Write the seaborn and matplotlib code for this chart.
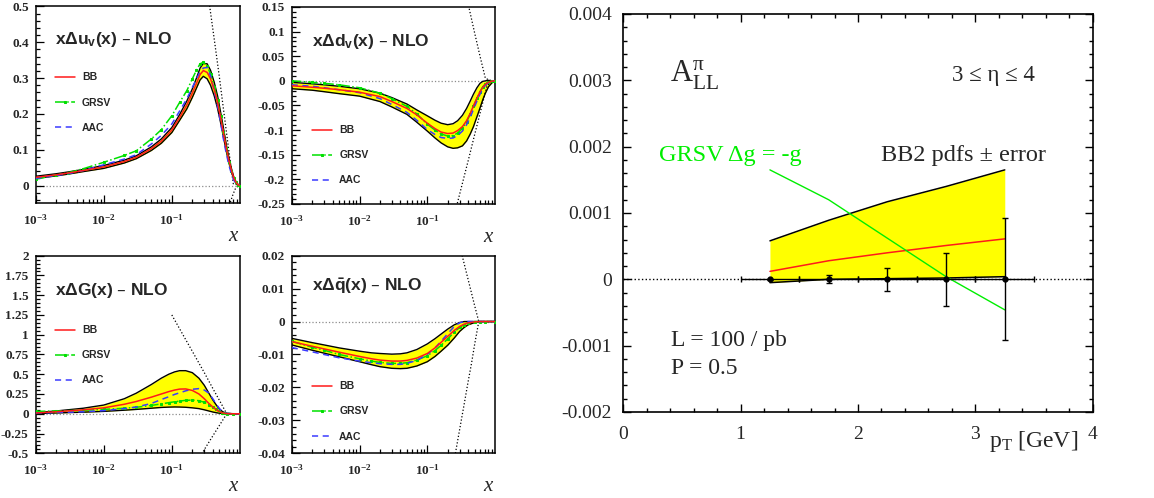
import math
import matplotlib
matplotlib.use("Agg")
import matplotlib.pyplot as plt
import seaborn as sns
from matplotlib.ticker import MultipleLocator, FuncFormatter, FixedLocator, LogLocator, NullFormatter

# ---------------- data: x*Delta u_v ----------------
x_uv = [0.001, 0.002, 0.003, 0.005, 0.01, 0.02, 0.03, 0.05, 0.07, 0.1, 0.13, 0.166, 0.2, 0.23,
        0.26, 0.29, 0.33, 0.37, 0.42, 0.47, 0.52, 0.57, 0.63, 0.69, 0.75, 0.81, 0.87, 0.93, 1.0]
uv_bb = [0.023, 0.030, 0.035, 0.042, 0.052, 0.067, 0.079, 0.103, 0.124, 0.155, 0.190, 0.225, 0.258,
         0.285, 0.310, 0.321, 0.316, 0.298, 0.268, 0.232, 0.190, 0.150, 0.105, 0.070, 0.043, 0.022,
         0.010, 0.003, 0.0]
uv_hi = [0.026, 0.033, 0.038, 0.045, 0.056, 0.071, 0.083, 0.108, 0.130, 0.162, 0.198, 0.236, 0.270,
         0.300, 0.328, 0.341, 0.340, 0.322, 0.288, 0.250, 0.205, 0.163, 0.115, 0.077, 0.048, 0.025,
         0.012, 0.004, 0.0]
uv_lo = [0.020, 0.027, 0.032, 0.039, 0.048, 0.063, 0.075, 0.098, 0.118, 0.148, 0.182, 0.214, 0.246,
         0.272, 0.295, 0.305, 0.298, 0.280, 0.250, 0.215, 0.176, 0.138, 0.096, 0.063, 0.038, 0.019,
         0.008, 0.002, 0.0]
uv_grsv = [0.018, 0.029, 0.036, 0.047, 0.065, 0.084, 0.097, 0.130, 0.156, 0.195, 0.232, 0.265, 0.298,
           0.322, 0.340, 0.344, 0.334, 0.312, 0.276, 0.238, 0.193, 0.150, 0.104, 0.067, 0.040, 0.020,
           0.009, 0.002, 0.0]
uv_aac = [0.020, 0.028, 0.033, 0.042, 0.058, 0.074, 0.086, 0.116, 0.140, 0.172, 0.208, 0.242, 0.274,
          0.297, 0.318, 0.328, 0.330, 0.306, 0.265, 0.222, 0.176, 0.132, 0.090, 0.057, 0.033, 0.016,
          0.006, 0.002, 0.0]
uv_bx_up = [0.34, 0.36, 0.43, 0.5, 0.57, 0.63, 0.72, 0.8, 1.0]
uv_b_up = [0.535, 0.50, 0.394, 0.302, 0.217, 0.153, 0.068, 0.005, 0.0]
uv_bx_lo = [0.70, 0.78, 0.85, 0.93, 1.0]
uv_b_lo = [-0.055, -0.028, -0.010, -0.002, 0.0]

# ---------------- data: x*Delta d_v ----------------
x_dv = [0.001, 0.002, 0.003, 0.005, 0.01, 0.02, 0.03, 0.05, 0.07, 0.1, 0.13, 0.16, 0.2, 0.24, 0.28,
        0.33, 0.38, 0.43, 0.48, 0.54, 0.6, 0.66, 0.72, 0.8, 0.9, 1.0]
dv_bb = [-0.010, -0.013, -0.015, -0.018, -0.023, -0.032, -0.042, -0.056, -0.069, -0.086, -0.097,
         -0.104, -0.107, -0.106, -0.101, -0.093, -0.081, -0.066, -0.051, -0.035, -0.022, -0.013,
         -0.007, -0.003, -0.0005, 0.0]
dv_hi = [-0.003, -0.006, -0.008, -0.011, -0.016, -0.025, -0.034, -0.047, -0.059, -0.071, -0.080,
         -0.086, -0.089, -0.087, -0.081, -0.070, -0.056, -0.041, -0.027, -0.014, -0.005, -0.001,
         0.0, 0.001, 0.0, 0.0]
dv_lo = [-0.016, -0.019, -0.022, -0.026, -0.031, -0.042, -0.053, -0.068, -0.084, -0.102, -0.116,
         -0.126, -0.134, -0.137, -0.136, -0.132, -0.122, -0.108, -0.093, -0.073, -0.055, -0.038,
         -0.025, -0.012, -0.004, 0.0]
dv_grsv = [0.0, -0.003, -0.005, -0.008, -0.014, -0.025, -0.036, -0.052, -0.067, -0.088, -0.100,
           -0.108, -0.112, -0.111, -0.106, -0.096, -0.083, -0.068, -0.052, -0.035, -0.022, -0.012,
           -0.006, -0.002, 0.0, 0.0]
dv_aac = [-0.008, -0.011, -0.014, -0.018, -0.024, -0.036, -0.048, -0.064, -0.080, -0.099, -0.109,
          -0.115, -0.117, -0.116, -0.111, -0.102, -0.089, -0.074, -0.058, -0.041, -0.027, -0.016,
          -0.009, -0.004, -0.001, 0.0]
dv_bx_up = [0.38, 0.41, 0.5, 0.6, 0.72, 0.85, 1.0]
dv_b_up = [0.175, 0.15, 0.097, 0.05, 0.005, 0.001, 0.0]
dv_bx_lo = [0.27, 0.35, 0.41, 0.5, 0.6, 0.76, 0.9, 1.0]
dv_b_lo = [-0.255, -0.194, -0.157, -0.109, -0.066, -0.010, -0.002, 0.0]

# ---------------- data: x*Delta G ----------------
x_g = [0.001, 0.002, 0.005, 0.01, 0.02, 0.03, 0.05, 0.07, 0.09, 0.11, 0.13, 0.16, 0.2, 0.25, 0.3,
       0.35, 0.4, 0.45, 0.5, 0.55, 0.6, 0.65, 0.8, 1.0]
g_bb = [0.01, 0.025, 0.05, 0.075, 0.12, 0.155, 0.21, 0.25, 0.28, 0.30, 0.312, 0.314, 0.295, 0.25,
        0.19, 0.13, 0.085, 0.05, 0.026, 0.012, 0.005, 0.002, 0.0, 0.0]
g_hi = [0.015, 0.035, 0.07, 0.11, 0.19, 0.26, 0.37, 0.45, 0.50, 0.53, 0.545, 0.545, 0.52, 0.45,
        0.36, 0.26, 0.175, 0.11, 0.06, 0.03, 0.012, 0.005, 0.0, 0.0]
g_lo = [0.002, 0.01, 0.02, 0.03, 0.045, 0.055, 0.07, 0.08, 0.084, 0.086, 0.085, 0.082, 0.075, 0.065,
        0.05, 0.035, 0.022, 0.013, 0.007, 0.003, 0.001, 0.0, 0.0, 0.0]
g_grsv = [0.03, 0.035, 0.045, 0.055, 0.07, 0.082, 0.105, 0.125, 0.14, 0.152, 0.16, 0.17, 0.173,
          0.165, 0.145, 0.115, 0.085, 0.055, 0.03, 0.015, 0.006, 0.002, 0.0, 0.0]
g_aac = [0.01, 0.015, 0.025, 0.04, 0.065, 0.085, 0.13, 0.18, 0.215, 0.245, 0.265, 0.29, 0.31, 0.318,
         0.30, 0.26, 0.19, 0.12, 0.065, 0.03, 0.012, 0.004, 0.0, 0.0]
g_bx_up = [0.1, 0.15, 0.2, 0.3, 0.4, 0.5, 0.64, 0.8, 1.0]
g_b_up = [1.25, 0.98, 0.79, 0.52, 0.32, 0.17, 0.0, 0.0, 0.0]
g_bx_lo = [0.26, 0.3, 0.4, 0.5, 0.64]
g_b_lo = [-0.55, -0.453, -0.28, -0.147, 0.0]

# ---------------- data: x*Delta qbar ----------------
x_q = [0.001, 0.002, 0.003, 0.005, 0.01, 0.015, 0.02, 0.03, 0.04, 0.05, 0.07, 0.1, 0.13, 0.16, 0.2,
       0.25, 0.3, 0.35, 0.4, 0.5, 0.6, 0.7, 1.0]
q_bb = [-0.0061, -0.0075, -0.0083, -0.0093, -0.0106, -0.0113, -0.0117, -0.0120, -0.0120, -0.0118,
        -0.0111, -0.0097, -0.0080, -0.0063, -0.0045, -0.0027, -0.0015, -0.0008, -0.0004, -0.0001,
        0.0, 0.0, 0.0]
q_hi = [-0.0051, -0.0064, -0.0071, -0.0080, -0.0090, -0.0095, -0.0097, -0.0099, -0.0098, -0.0095,
        -0.0085, -0.0068, -0.0052, -0.0038, -0.0023, -0.0010, -0.0003, 0.0, 0.0, 0.0, 0.0, 0.0, 0.0]
q_lo = [-0.0071, -0.0087, -0.0096, -0.0107, -0.0122, -0.0131, -0.0137, -0.0142, -0.0143, -0.0142,
        -0.0135, -0.0122, -0.0106, -0.0090, -0.0072, -0.0050, -0.0030, -0.0018, -0.0010, -0.0003,
        0.0, 0.0, 0.0]
q_grsv = [-0.0060, -0.0078, -0.0087, -0.0100, -0.0113, -0.0120, -0.0124, -0.0127, -0.0127, -0.0125,
          -0.0117, -0.0104, -0.0088, -0.0072, -0.0053, -0.0032, -0.0018, -0.0009, -0.0004, 0.0,
          0.0, 0.0, 0.0]
q_aac = [-0.0079, -0.0092, -0.0100, -0.0110, -0.0120, -0.0125, -0.0128, -0.0130, -0.0130, -0.0127,
         -0.0118, -0.0100, -0.0080, -0.0060, -0.0037, -0.0015, -0.0004, 0.0, 0.0, 0.0, 0.0, 0.0, 0.0]
q_bx_up = [0.3, 0.327, 0.4, 0.5, 0.575, 1.0]
q_b_up = [0.023, 0.02, 0.0128, 0.0048, 0.0, 0.0]
q_bx_lo = [0.26, 0.3, 0.35, 0.4, 0.45, 0.5, 0.575, 1.0]
q_b_lo = [-0.040, -0.0328, -0.0251, -0.0183, -0.0126, -0.0069, 0.0, 0.0]

# ---------------- data: A_LL^pi vs pT ----------------
pt = [1.25, 1.75, 2.25, 2.75, 3.25]
all_hi = [0.00058, 0.00089, 0.00117, 0.00140, 0.00165]
all_bb = [0.00012, 0.00028, 0.00040, 0.00051, 0.00061]
all_lo = [-0.00005, 0.0, 0.00001, 0.00002, 0.00004]
all_grsv = [0.00165, 0.00120, 0.00062, 0.00004, -0.00046]
all_pts = [0.0, 0.0, 0.0, 0.0, 0.0]
all_err = [0.00001, 0.00006, 0.00017, 0.00040, 0.00092]
pt_half = 0.25

YELLOW = "#ffff00"
RED = "#ff1a1a"
GREEN = "#00e000"
BLUE = "#3a3aff"

sns.set_theme(style="white")
plt.rcParams["font.family"] = ["Liberation Serif", "DejaVu Serif"]
plt.rcParams["mathtext.default"] = "regular"

fig = plt.figure(figsize=(11.54, 4.98), dpi=100)

SANSB = dict(family=["Liberation Sans", "DejaVu Sans"], weight="bold")


def line(ax, x, y, **kw):
    sns.lineplot(x=x, y=y, ax=ax, estimator=None, sort=False, legend=False, **kw)
    return ax.lines[-1]


def pdf_panel(rect, x, bb, hi, lo, grsv, aac, bxu, bu, bxl, bl, ylim, major, minor,
              title, tpos, lpos):
    ax = fig.add_axes(rect)
    ax.set_xscale("log")
    ax.axhline(0, color="0.55", ls=":", lw=0.9, zorder=0.5)
    ax.fill_between(x, lo, hi, color=YELLOW, lw=0, zorder=1)
    line(ax, x, hi, color="black", lw=1.0, zorder=2)
    line(ax, x, lo, color="black", lw=1.0, zorder=2)
    h_bb = line(ax, x, bb, color=RED, lw=1.1, zorder=4)
    h_gr = line(ax, x, grsv, color=GREEN, lw=1.1, ls="-.", marker="s", ms=1.8,
                mec=GREEN, zorder=3)
    h_aa = line(ax, x, aac, color=BLUE, lw=1.1, ls=(0, (4, 3)), zorder=3)
    line(ax, bxu, bu, color="black", lw=0.9, ls=":", zorder=2)
    line(ax, bxl, bl, color="black", lw=0.9, ls=":", zorder=2)
    ax.set_xlim(1e-3, 1)
    ax.set_ylim(*ylim)
    ax.xaxis.set_major_locator(FixedLocator([1e-3, 1e-2, 1e-1]))
    ax.xaxis.set_major_formatter(FuncFormatter(lambda v, p: r"$10^{%d}$" % round(math.log10(v))))
    ax.xaxis.set_minor_locator(LogLocator(base=10, subs=range(2, 10), numticks=20))
    ax.xaxis.set_minor_formatter(NullFormatter())
    ax.yaxis.set_major_locator(MultipleLocator(major))
    ax.yaxis.set_minor_locator(MultipleLocator(minor))
    ax.yaxis.set_major_formatter(FuncFormatter(lambda v, p: "0" if abs(v) < 1e-9 else ("%g" % round(v, 6))))
    ax.tick_params(which="both", direction="in", left=True, bottom=True, top=False, right=False,
                   color="black", labelsize=9.5, width=0.9)
    ax.tick_params(which="major", length=5.5)
    ax.tick_params(which="minor", length=3)
    ax.tick_params(axis="x", pad=7)
    ax.tick_params(axis="y", pad=5)
    for s in ax.spines.values():
        s.set_color("black")
        s.set_linewidth(1.1)
    plt.setp(ax.get_xticklabels(), fontweight="bold")
    plt.setp(ax.get_yticklabels(), fontweight="bold")
    ax.text(tpos[0], tpos[1], title, transform=ax.transAxes, fontsize=12.5, va="center",
            ha="left", **SANSB)
    ax.legend([h_bb, h_gr, h_aa], ["BB", "GRSV", "AAC"], loc="upper left",
              bbox_to_anchor=lpos, frameon=False, prop=dict(size=7.5, **SANSB),
              handlelength=1.9, handletextpad=0.7, labelspacing=1.45,
              borderpad=0, borderaxespad=0)
    ax.text(0.965, -0.17, "x", transform=ax.transAxes, fontsize=15, style="italic",
            ha="center", va="center")
    return ax


pdf_panel([0.0309, 0.5914, 0.1770, 0.3956], x_uv, uv_bb, uv_hi, uv_lo, uv_grsv, uv_aac,
          uv_bx_up, uv_b_up, uv_bx_lo, uv_b_lo, (-0.05, 0.5), 0.1, 0.02,
          r"x$\Delta$u$_{v}$(x) – NLO", (0.094, 0.83), (0.094, 0.665))
pdf_panel([0.2528, 0.5904, 0.1762, 0.3956], x_dv, dv_bb, dv_hi, dv_lo, dv_grsv, dv_aac,
          dv_bx_up, dv_b_up, dv_bx_lo, dv_b_lo, (-0.25, 0.15), 0.05, 0.01,
          r"x$\Delta$d$_{v}$(x) – NLO", (0.098, 0.827), (0.10, 0.40))
pdf_panel([0.0309, 0.0898, 0.1770, 0.3968], x_g, g_bb, g_hi, g_lo, g_grsv, g_aac,
          g_bx_up, g_b_up, g_bx_lo, g_b_lo, (-0.5, 2.0), 0.25, 0.05,
          r"x$\Delta$G(x) – NLO", (0.094, 0.826), (0.094, 0.648))
pdf_panel([0.2528, 0.0898, 0.1762, 0.3968], x_q, q_bb, q_hi, q_lo, q_grsv, q_aac,
          q_bx_up, q_b_up, q_bx_lo, q_b_lo, (-0.04, 0.02), 0.01, 0.002,
          r"x$\Delta\bar{q}$(x) – NLO", (0.098, 0.847), (0.10, 0.364))

# ---------------- right panel ----------------
ax = fig.add_axes([0.540, 0.1727, 0.407, 0.7992])
ax.axhline(0, color="black", ls=":", lw=1.0, zorder=1)
ax.fill_between(pt, all_lo, all_hi, color=YELLOW, lw=0, zorder=1)
line(ax, pt, all_hi, color="black", lw=1.1, zorder=2)
line(ax, pt, all_lo, color="black", lw=1.1, zorder=2)
line(ax, pt, all_bb, color=RED, lw=1.1, zorder=3)
line(ax, pt, all_grsv, color="#00ee00", lw=1.0, zorder=3)
ax.errorbar(pt, all_pts, yerr=all_err, xerr=pt_half, fmt="o", color="black", ms=3.5,
            capsize=2.5, elinewidth=1.0, capthick=1.0, zorder=4)
ax.set_xlim(0, 4)
ax.set_ylim(-0.002, 0.004)
ax.xaxis.set_major_locator(MultipleLocator(1))
ax.xaxis.set_minor_locator(MultipleLocator(0.2))
ax.yaxis.set_major_locator(MultipleLocator(0.001))
ax.yaxis.set_minor_locator(MultipleLocator(0.0002))
ax.xaxis.set_major_formatter(FuncFormatter(lambda v, p: "%d" % round(v)))
ax.yaxis.set_major_formatter(FuncFormatter(lambda v, p: "0" if abs(v) < 1e-9 else "%.3f" % v))
ax.tick_params(which="both", direction="in", top=True, right=True, left=True, bottom=True,
               color="black", width=1.0, labelsize=14)
ax.tick_params(which="major", length=6)
ax.tick_params(which="minor", length=3)
ax.tick_params(axis="x", pad=10)
ax.tick_params(axis="y", pad=8)
for s in ax.spines.values():
    s.set_color("black")
    s.set_linewidth(1.2)

ax.text(0.40, 0.00296, r"$A^{\pi}_{LL}$", fontsize=22, ha="left", va="baseline")
ax.text(2.80, 0.00308, "3 ≤ η ≤ 4", fontsize=16.5, ha="left", va="center")
ax.text(0.306, 0.00187, "GRSV Δg = -g", fontsize=17.5, ha="left", va="center", color="#00ee00")
ax.text(2.20, 0.00187, "BB2 pdfs ± error", fontsize=17.5, ha="left", va="center")
ax.text(0.406, -0.000915, "L = 100 / pb", fontsize=17, ha="left", va="center")
ax.text(0.406, -0.00134, "P = 0.5", fontsize=17, ha="left", va="center")
ax.text(0.874, -0.075, r"$p_T$ [GeV]", transform=ax.transAxes, fontsize=17, ha="center", va="center")

fig.savefig("out.png", dpi=100)
